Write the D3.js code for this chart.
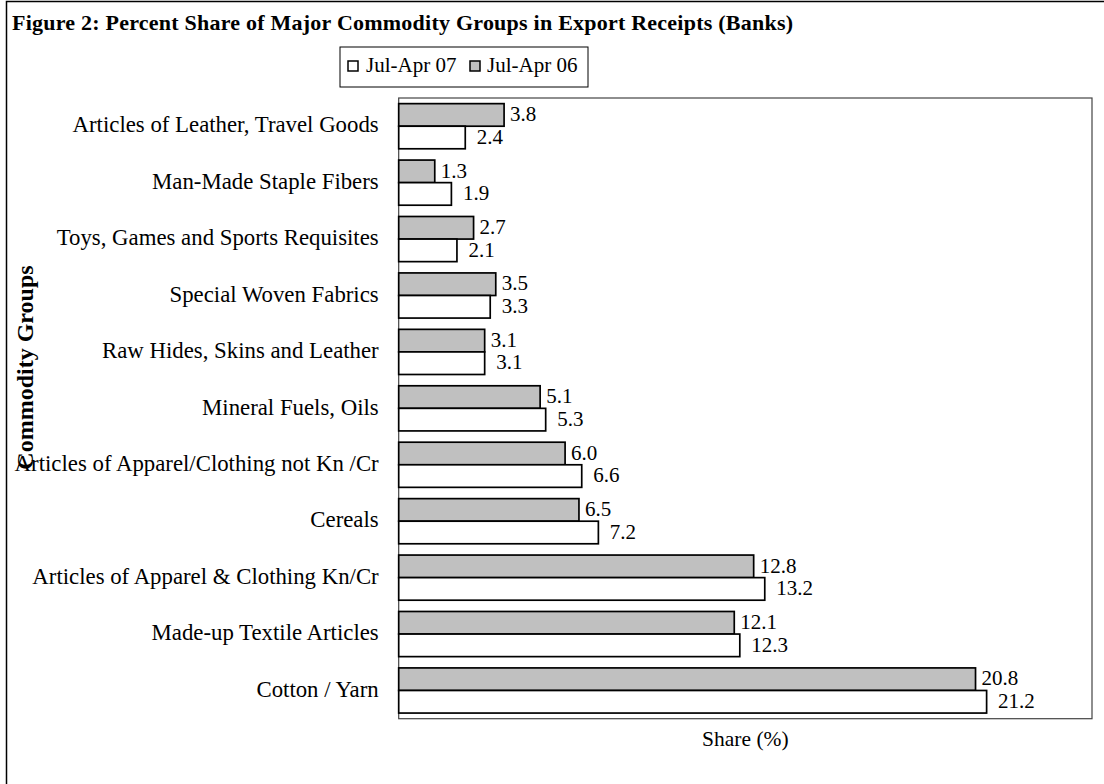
<!DOCTYPE html>
<html>
<head>
<meta charset="utf-8">
<script src="https://cdn.jsdelivr.net/npm/d3@7"></script>
<style>
  html, body { margin: 0; padding: 0; background: #fff; }
  svg { display: block; }
  text { font-family: "Liberation Serif", "Times New Roman", serif; fill: #000; }
</style>
</head>
<body>
<svg id="chart" width="1104" height="784"></svg>
<script>
// ---- data ----
const categories = [
  "Articles of Leather, Travel Goods",
  "Man-Made Staple Fibers",
  "Toys, Games and Sports Requisites",
  "Special Woven Fabrics",
  "Raw Hides, Skins and Leather",
  "Mineral Fuels, Oils",
  "Articles of Apparel/Clothing not Kn /Cr",
  "Cereals",
  "Articles of Apparel & Clothing Kn/Cr",
  "Made-up Textile Articles",
  "Cotton / Yarn"
];
const julApr06 = [3.8, 1.3, 2.7, 3.5, 3.1, 5.1, 6.0, 6.5, 12.8, 12.1, 20.8];
const julApr07 = [2.4, 1.9, 2.1, 3.3, 3.1, 5.3, 6.6, 7.2, 13.2, 12.3, 21.2];
const seriesNames = ["Jul-Apr 07", "Jul-Apr 06"];
const xDomain = [0, 25];
const titleText = "Figure 2: Percent Share of Major Commodity Groups in Export Receipts (Banks)";
const xTitle = "Share (%)";
const yTitle = "Commodity Groups";

// ---- layout ----
const svg = d3.select("#chart");
const plot = { left: 398.7, right: 1092, top: 98, bottom: 718.7 };
const GRAY = "#c0c0c0";

// outer frame
svg.append("rect")
  .attr("x", 6.5).attr("y", 1.5).attr("width", 1200).attr("height", 900)
  .attr("fill", "none").attr("stroke", "#000").attr("stroke-width", 1.5);

// title
svg.append("text")
  .attr("x", 12).attr("y", 30)
  .attr("font-size", 22).attr("font-weight", "bold")
  .attr("textLength", 781).attr("lengthAdjust", "spacing")
  .text(titleText);

// scales
const x = d3.scaleLinear().domain(xDomain).range([plot.left, plot.right]);
const y = d3.scaleBand().domain(categories).range([plot.top, plot.bottom])
  .paddingInner(0.2).paddingOuter(0.1);
const sub = d3.scaleBand().domain(["06", "07"]).range([0, y.bandwidth()]);

// plot frame
svg.append("rect")
  .attr("x", plot.left).attr("y", plot.top)
  .attr("width", plot.right - plot.left).attr("height", plot.bottom - plot.top)
  .attr("fill", "none").attr("stroke", "#444").attr("stroke-width", 1.2);

// category axis
const yAxis = svg.append("g")
  .attr("transform", `translate(${plot.left},0)`)
  .call(d3.axisLeft(y).tickSize(0).tickPadding(20));
yAxis.select(".domain").remove();
yAxis.selectAll("text")
  .attr("font-size", 22.8)
  .attr("dy", "0.27em")
  .attr("font-family", "Liberation Serif, Times New Roman, serif")
  .attr("fill", "#000");

const rows = categories.map((c, i) => ({ cat: c, v06: julApr06[i], v07: julApr07[i] }));

// bars
const g = svg.append("g");
rows.forEach(r => {
  [["06", r.v06, GRAY], ["07", r.v07, "#fff"]].forEach(([k, v, fill]) => {
    const by = y(r.cat) + sub(k);
    g.append("rect")
      .attr("x", x(0)).attr("y", by)
      .attr("width", x(v) - x(0)).attr("height", sub.bandwidth())
      .attr("fill", fill).attr("stroke", "#000").attr("stroke-width", 1.7);
    g.append("text")
      .attr("x", x(v) + (k === "06" ? 6 : 11.5))
      .attr("y", by + sub.bandwidth() / 2 + 6.2)
      .attr("font-size", 21)
      .text(v.toFixed(1));
  });
});

// x-axis title
svg.append("text")
  .attr("x", (plot.left + plot.right) / 2).attr("y", 746)
  .attr("text-anchor", "middle").attr("font-size", 21.5)
  .text(xTitle);

// y-axis title
svg.append("text")
  .attr("transform", "translate(33,367.5) rotate(-90)")
  .attr("text-anchor", "middle").attr("font-size", 24).attr("font-weight", "bold")
  .text(yTitle);

// legend
const lg = svg.append("g");
lg.append("rect").attr("x", 340).attr("y", 47).attr("width", 248).attr("height", 40)
  .attr("fill", "#fff").attr("stroke", "#000").attr("stroke-width", 1);
const legItems = [
  { name: seriesNames[0], fill: "#fff", sx: 348, tx: 366 },
  { name: seriesNames[1], fill: GRAY, sx: 470, tx: 487 }
];
legItems.forEach(it => {
  lg.append("rect").attr("x", it.sx).attr("y", 61).attr("width", 10).attr("height", 10)
    .attr("fill", it.fill).attr("stroke", "#000").attr("stroke-width", 1.5);
  lg.append("text").attr("x", it.tx).attr("y", 72).attr("font-size", 21).text(it.name);
});
</script>
</body>
</html>
